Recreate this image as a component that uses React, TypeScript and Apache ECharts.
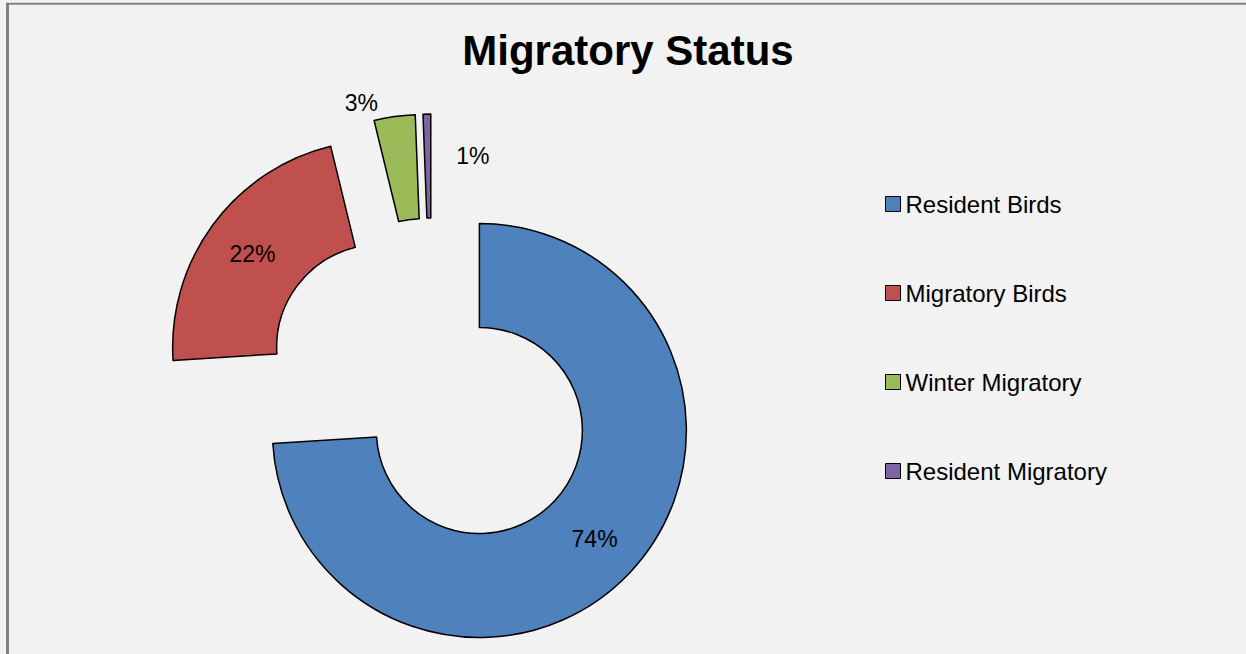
import React, { useEffect, useRef } from 'react';
import * as echarts from 'echarts';

const categories = ['Resident Birds', 'Migratory Birds', 'Winter Migratory', 'Resident Migratory'];
const values = [74, 22.2, 3.2, 0.6];
const colors = ['#4F81BD', '#C0504D', '#9BBB59', '#8064A2'];
const titleText = 'Migratory Status';

const FONT = "'Liberation Sans', Arial, sans-serif";

export default function App() {
  const ref = useRef<HTMLDivElement>(null);
  useEffect(() => {
    const chart = echarts.init(ref.current!, null, { renderer: 'svg' });
    const labelShift: Record<number, [number, number]> = { 2: [-40, -62], 3: [45, -7] };
    chart.setOption({
      animation: false,
      backgroundColor: '#f2f2f2',
      title: {
        text: titleText,
        left: 628,
        top: 29,
        padding: 0,
        textAlign: 'center',
        textStyle: { fontFamily: FONT, fontSize: 42, fontWeight: 'bold', color: '#000' },
      },
      legend: {
        orient: 'vertical',
        left: 885,
        top: 192,
        itemWidth: 15,
        itemHeight: 15,
        itemGap: 65,
        padding: 0,
        icon: 'rect',
        selectedMode: false,
        textStyle: { fontFamily: FONT, fontSize: 24, color: '#000' },
        itemStyle: { borderColor: '#000', borderWidth: 1 },
        data: categories,
      },
      graphic: [
        { type: 'line', shape: { x1: 6, y1: 3.8, x2: 1246, y2: 3.8 }, style: { stroke: '#808080', lineWidth: 2 } },
        { type: 'line', shape: { x1: 7.5, y1: 3, x2: 7.5, y2: 654 }, style: { stroke: '#808080', lineWidth: 3 } },
      ],
      series: [
        {
          type: 'pie',
          center: [432, 386],
          radius: [103, 207],
          startAngle: 90,
          clockwise: true,
          selectedMode: 'multiple',
          selectedOffset: 65,
          avoidLabelOverlap: false,
          label: {
            show: true,
            position: 'inside',
            formatter: (p: any) => Math.round(p.percent) + '%',
            fontFamily: FONT,
            fontSize: 23,
            color: '#000',
          },
          labelLine: { show: false },
          labelLayout: (p: any) => {
            const s = labelShift[p.dataIndex];
            return s ? { dx: s[0], dy: s[1] } : {};
          },
          itemStyle: { borderColor: '#000', borderWidth: 1.5 },
          emphasis: { disabled: true },
          data: categories.map((name, i) => ({
            name,
            value: values[i],
            selected: true,
            itemStyle: { color: colors[i] },
          })),
        },
      ],
    });
    return () => chart.dispose();
  }, []);
  return <div ref={ref} style={{ position: 'fixed', left: 0, top: 0, width: 1246, height: 654 }} />;
}
